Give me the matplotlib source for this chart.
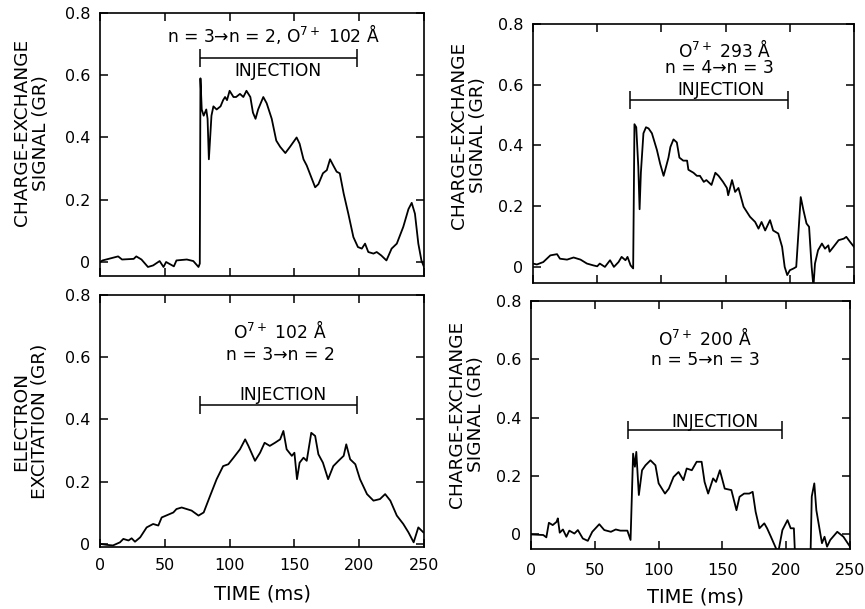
import matplotlib
matplotlib.use("Agg")
import matplotlib.pyplot as plt

plt.rcParams["font.family"] = ["DejaVu Sans"]
plt.rcParams["mathtext.fontset"] = "dejavusans"

# ---- data (time in ms, signal in GR) ----
tl_t = [0, 2, 14, 17, 26, 28, 32, 37, 41, 46, 49, 51, 57, 59, 67, 72, 76, 77,
        77.5, 78.5, 80, 82, 83, 84, 86, 87.5, 90, 93, 95, 96.5, 98, 100, 103,
        105, 108, 110.6, 113, 116, 118, 120, 122, 126, 128.6, 132.5, 136, 139,
        143, 146.6, 151.7, 154, 157, 159.5, 166, 168.5, 172, 175, 177.5, 180,
        182.6, 185, 188, 191.6, 195.5, 199, 202, 204.5, 207, 211, 213.5, 217,
        221, 225, 229, 234, 238, 240.5, 243, 245.6, 248, 250]
tl_v = [0, 0.005, 0.018, 0.008, 0.01, 0.018, 0.008, -0.016, -0.011, 0.003,
        -0.016, 0, -0.014, 0.005, 0.008, 0.003, -0.016, -0.005,
        0.59, 0.49, 0.47, 0.49, 0.46, 0.33, 0.47, 0.50, 0.49, 0.50, 0.52, 0.53,
        0.52, 0.55, 0.53, 0.53, 0.54, 0.53, 0.55, 0.53, 0.48, 0.46, 0.49, 0.53,
        0.51, 0.46, 0.39, 0.37, 0.35, 0.37, 0.40, 0.38, 0.33, 0.31, 0.24, 0.25,
        0.285, 0.295, 0.33, 0.31, 0.29, 0.285, 0.22, 0.155, 0.08, 0.048, 0.043,
        0.059, 0.032, 0.027, 0.032, 0.021, 0.005, 0.043, 0.059, 0.113, 0.17,
        0.19, 0.155, 0.059, 0.005, -0.016]

tr_t = [0, 3, 8, 13.5, 18.7, 21, 26.5, 31.6, 37, 42, 47, 50, 52, 56, 60, 63,
        66.6, 69, 72, 73.6, 76, 78, 79, 80.4, 82, 83, 84, 86, 88, 90, 92.6,
        96.5, 99, 101.7, 103, 105.5, 107, 109.4, 112, 114, 117, 120, 121, 125,
        127.6, 130, 133, 135, 139, 142, 144.5, 148, 151, 152, 155, 157.4, 160,
        164, 169, 173, 175.6, 178, 180.8, 184.6, 187, 191, 194, 196, 198, 200,
        203, 205, 208.5, 210.6, 213, 215, 217, 218.4, 219.6, 222, 225, 227.4,
        230, 231, 234, 238, 242, 244, 247, 250]
tr_v = [0.011, 0.008, 0.016, 0.038, 0.042, 0.027, 0.024, 0.031, 0.024, 0.011,
        0.005, 0.002, 0.011, 0, 0.022, 0, 0.016, 0.033, 0.022, 0.033, 0.005,
        -0.005, 0.47, 0.46, 0.33, 0.19, 0.31, 0.44, 0.46, 0.456, 0.44, 0.385,
        0.34, 0.30, 0.32, 0.36, 0.395, 0.42, 0.41, 0.36, 0.35, 0.35, 0.32,
        0.31, 0.30, 0.30, 0.28, 0.286, 0.27, 0.31, 0.30, 0.28, 0.26, 0.236,
        0.286, 0.247, 0.26, 0.198, 0.165, 0.148, 0.126, 0.148, 0.12, 0.154,
        0.12, 0.11, 0.066, 0, -0.027, -0.011, -0.005, 0, 0.23, 0.187, 0.143,
        0.132, 0, -0.065, 0.011, 0.055, 0.077, 0.06, 0.071, 0.05, 0.066, 0.088,
        0.093, 0.099, 0.082, 0.066]

bl_t = [0, 5, 10, 15.4, 18, 22, 24.4, 27, 31, 36, 41, 45, 47.6, 51, 56.6, 59,
        63, 66.9, 70.7, 76, 80, 85, 90, 95, 99, 103, 108, 112, 114.5, 119.6,
        123.5, 127, 131, 135, 139, 141.5, 144, 148, 150, 152, 154, 157, 159.5,
        163, 166, 168.5, 172, 176, 180, 184, 188, 190, 193, 197, 200.6, 206,
        211, 216, 220, 224, 229, 234, 238, 242, 245.6, 249.5]
bl_v = [0, -0.003, -0.005, 0.005, 0.016, 0.011, 0.018, 0.007, 0.021, 0.053,
        0.064, 0.059, 0.085, 0.091, 0.101, 0.112, 0.117, 0.112, 0.107, 0.091,
        0.101, 0.155, 0.208, 0.25, 0.256, 0.277, 0.304, 0.336, 0.315, 0.267,
        0.293, 0.325, 0.315, 0.325, 0.336, 0.363, 0.304, 0.283, 0.293, 0.208,
        0.261, 0.277, 0.267, 0.357, 0.347, 0.288, 0.261, 0.208, 0.25, 0.267,
        0.283, 0.32, 0.272, 0.256, 0.208, 0.16, 0.139, 0.144, 0.16, 0.139,
        0.091, 0.064, 0.037, 0.005, 0.053, 0.037]

br_t = [0, 9.6, 12, 14, 17, 20, 21, 22.5, 25, 27.7, 30, 34, 36.7, 40.6, 44.5,
        48, 53.5, 57.4, 62.6, 66.4, 70, 75.5, 78, 80, 81.4, 82.5, 84.5, 87,
        89.7, 93.6, 97.5, 100, 105, 108, 111.7, 115.6, 119.4, 122, 126, 129.8,
        133.7, 136, 138.8, 142.7, 145, 148, 151.8, 157, 161, 163.4, 167, 171,
        173.7, 176, 179, 182.8, 185, 188, 192, 194, 197, 201, 203.5, 206, 207,
        213, 219, 220, 222, 223.6, 226.7, 228, 230, 232, 234.5, 240, 244.8, 250]
br_v = [0, -0.002, -0.01, 0.04, 0.032, 0.043, 0.055, 0.006, 0.017, -0.008,
        0.013, 0.003, 0.015, -0.014, -0.022, 0.009, 0.035, 0.015, 0.009, 0.017,
        0.013, 0.013, -0.019, 0.277, 0.232, 0.283, 0.135, 0.22, 0.237, 0.254,
        0.237, 0.175, 0.14, 0.157, 0.197, 0.214, 0.186, 0.226, 0.22, 0.249,
        0.249, 0.18, 0.14, 0.192, 0.18, 0.22, 0.157, 0.152, 0.083, 0.129, 0.14,
        0.14, 0.146, 0.078, 0.021, 0.038, 0.021, -0.008, -0.048, -0.055, 0.015,
        0.049, 0.021, 0.021, -0.08, -0.09, -0.08, 0.13, 0.175, 0.083, 0.003,
        -0.03, -0.008, -0.042, -0.019, 0.009, -0.008, -0.042]

# injection window (ms) and the signal level at which its bar is drawn
inj_start = [77, 75.5, 77, 76]
inj_end = [198, 198.5, 198, 197]
inj_level = [0.655, 0.55, 0.448, 0.357]

ylabels = ["CHARGE-EXCHANGE\nSIGNAL (GR)", "CHARGE-EXCHANGE\nSIGNAL (GR)",
           "ELECTRON\nEXCITATION (GR)", "CHARGE-EXCHANGE\nSIGNAL (GR)"]
ymins = [-0.045, -0.053, -0.01, -0.05]
xticks = [0, 50, 100, 150, 200, 250]
yticks = [0, 0.2, 0.4, 0.6, 0.8]
ytick_labels = ["0", "0.2", "0.4", "0.6", "0.8"]

SUP = r"O$\mathregular{^{7+}}$"
# annotation lines: (text, t, signal at the text baseline)
notes = [
    [("n = 3\u2192n = 2, " + SUP + " 102 \u00c5", 134, 0.707),
     ("INJECTION", 137, 0.597)],
    [(SUP + " 293 \u00c5", 149, 0.692), ("n = 4\u2192n = 3", 145, 0.639),
     ("INJECTION", 146, 0.567)],
    [(SUP + " 102 \u00c5", 139, 0.662), ("n = 3\u2192n = 2", 139, 0.592),
     ("INJECTION", 141, 0.464)],
    [(SUP + " 200 \u00c5", 136, 0.649), ("n = 5\u2192n = 3", 137, 0.580),
     ("INJECTION", 144, 0.367)],
]

series = [(tl_t, tl_v), (tr_t, tr_v), (bl_t, bl_v), (br_t, br_v)]
# [left, bottom, width, height] in figure fraction
boxes = [[0.1156, 0.5468, 0.3746, 0.4319],
         [0.6162, 0.5353, 0.3711, 0.4253],
         [0.1156, 0.1018, 0.3746, 0.4138],
         [0.6139, 0.0985, 0.3688, 0.4072]]
label_xy = [(-0.154, 0.544), (-0.143, 0.571), (-0.157, 0.50), (-0.143, 0.544)]
has_xlabels = [False, False, True, True]
xlab_xy = [None, None, (0.503, -0.148), (0.515, -0.155)]
xpad = [8, 8, 8, 10]

fig = plt.figure(figsize=(8.65, 6.09), dpi=100)
for i in range(4):
    ax = fig.add_axes(boxes[i])
    t, v = series[i]
    ax.plot(t, v, color="black", lw=1.3)
    ax.set_xlim(0, 250)
    ax.set_ylim(ymins[i], 0.8)
    ax.set_xticks(xticks)
    ax.set_yticks(yticks)
    ax.set_yticklabels(ytick_labels)
    ax.tick_params(direction="in", length=6, width=1.1, top=True, right=True,
                   labelsize=11.5, pad=7)
    ax.tick_params(axis="x", pad=xpad[i])
    for s in ax.spines.values():
        s.set_linewidth(1.2)
    if has_xlabels[i]:
        ax.set_xlabel("TIME (ms)", fontsize=14)
        ax.xaxis.set_label_coords(*xlab_xy[i])
    else:
        ax.tick_params(labelbottom=False)
    ax.set_ylabel(ylabels[i], fontsize=13.3, linespacing=1.1)
    ax.yaxis.set_label_coords(*label_xy[i])

    mid = (inj_start[i] + inj_end[i]) / 2
    half = (inj_end[i] - inj_start[i]) / 2
    ax.errorbar(mid, inj_level[i], xerr=half, color="black", lw=1.1,
                capsize=6.5, capthick=1.1)
    for txt, x, y in notes[i]:
        ax.text(x, y, txt, ha="center", va="baseline", fontsize=12.3)

fig.savefig("out.png", dpi=100)
